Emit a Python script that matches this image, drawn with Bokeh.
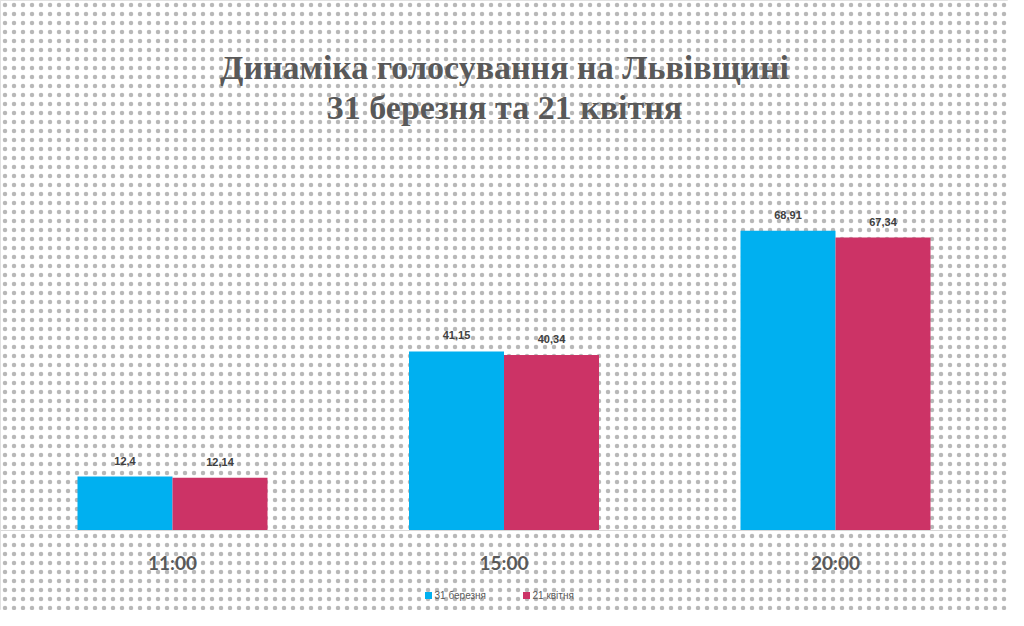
from bokeh.plotting import figure
from bokeh.embed import file_html
from bokeh.resources import INLINE
from bokeh.core.properties import value
from bokeh.models import Range1d

categories = ["11:00", "15:00", "20:00"]
march = [12.4, 41.15, 68.91]
april = [12.14, 40.34, 67.34]
march_lbl = ["12,4", "41,15", "68,91"]
april_lbl = ["12,14", "40,34", "67,34"]
series_names = ["31 березня", "21 квітня"]
title_lines = ["Динаміка голосування на Львівщині", "31 березня та 21 квітня"]

BLUE = "#00B0F0"; PINK = "#CC3366"
W, H = 1008, 610
pxu = 331.5; pyu = 4.35
x0 = -172/pxu; x1 = x0 + W/pxu
y0 = -80/pyu; y1 = y0 + H/pyu

p = figure(width=W, height=H, output_backend="svg", toolbar_location=None,
           x_range=Range1d(x0, x1), y_range=Range1d(y0, y1), min_border=0)
p.axis.visible = False
p.grid.visible = False
p.outline_line_color = "#d9d9d9"

p.quad(left=x0, right=x1, bottom=y0, top=y1, fill_color="white", line_color=None,
       hatch_pattern=".", hatch_color="#888888", hatch_scale=9, hatch_weight=1, hatch_alpha=0.6)

xs = list(range(len(categories)))
bw = 95/pxu
p.vbar(x=[x - bw/2 for x in xs], top=march, bottom=0, width=bw, fill_color=BLUE, line_color=None)
p.vbar(x=[x + bw/2 for x in xs], top=april, bottom=0, width=bw, fill_color=PINK, line_color=None)
p.segment(x0=x0, x1=x1, y0=0, y1=0, line_color="#d9d9d9", line_width=1)

lab = dict(text_font=value("Liberation Sans"), text_font_style="bold", text_font_size="11px",
           text_color="#404040", text_align="center", text_baseline="bottom")
p.text(x=[x - bw/2 for x in xs], y=[v + 12/pyu for v in march], text=march_lbl, **lab)
p.text(x=[x + bw/2 for x in xs], y=[v + 12/pyu for v in april], text=april_lbl, **lab)

p.text(x=xs, y=[-32/pyu]*3, text=categories, text_font=value("Lato"), text_font_style="bold",
       text_font_size="19px", text_color="#595959", text_align="center", text_baseline="middle")

tx = (504/pxu) + x0
p.text(x=[tx, tx], y=[(530-67)/pyu, (530-107)/pyu], text=title_lines,
       text_font=value("Liberation Sans Narrow"), text_font_style="bold", text_font_size="34px",
       text_color="#595959", text_align="center", text_baseline="middle")

ly = -65/pyu
lx1 = (436-8)/pxu + x0
lx2 = (534-8)/pxu + x0
p.rect(x=[lx1, lx2], y=[ly, ly], width=7/pxu, height=7/pyu, fill_color=[BLUE, PINK], line_color=None)
p.text(x=[lx1 + 6/pxu, lx2 + 6/pxu], y=[ly, ly], text=series_names, text_font=value("Liberation Sans"),
       text_font_size="10px", text_color="#595959", text_align="left", text_baseline="middle")

open("out.html", "w").write(file_html(p, INLINE))
